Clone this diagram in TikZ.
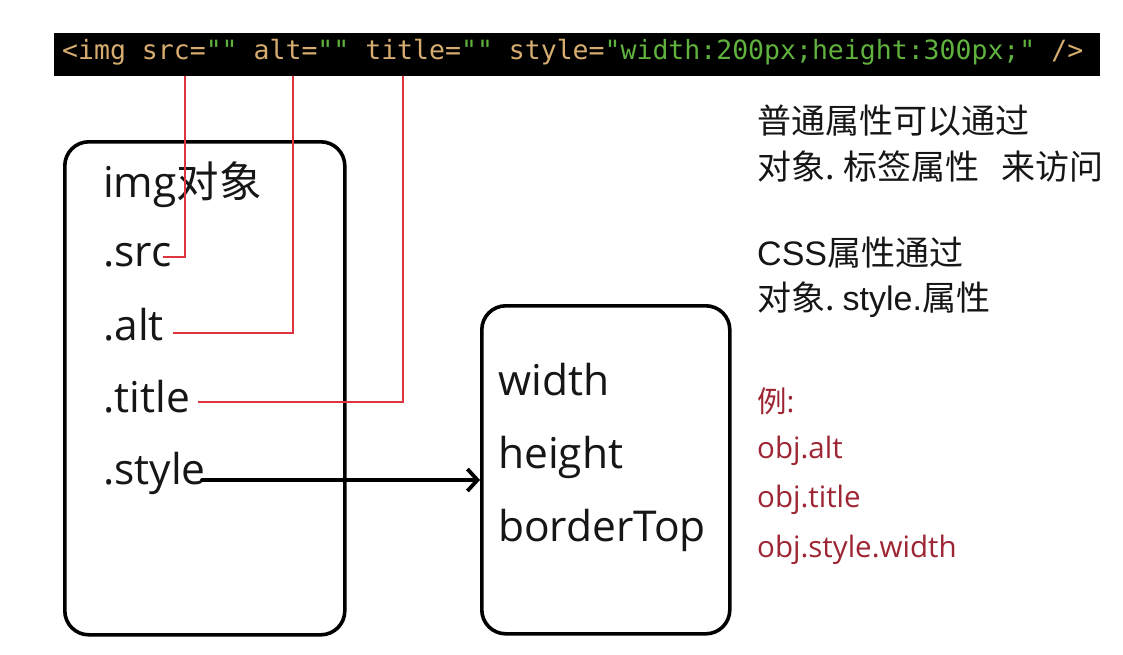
\documentclass[tikz,border=0pt]{standalone}
\usepackage{fontspec}
\setmainfont{Open Sans}
\newfontfamily\cjk{Noto Sans CJK SC}
\newfontfamily\arialf{Liberation Sans}
\newfontfamily\monof{DejaVu Sans Mono}
\usetikzlibrary{arrows.meta,calc}
\definecolor{codetan}{RGB}{214,172,112}
\definecolor{codegreen}{RGB}{96,178,62}
\definecolor{exred}{RGB}{158,38,52}
\definecolor{linkred}{RGB}{222,52,62}
\definecolor{txt}{RGB}{22,22,22}
\begin{document}
\begin{tikzpicture}[x=1pt,y=-1pt,
  box/.style={draw=black, line width=3.6pt, rounded corners=24pt, inner sep=0pt},
  item/.style={anchor=base west, inner sep=0pt, text=txt, font=\fontsize{42.5}{48}\selectfont},
  note/.style={anchor=base west, inner sep=0pt, text=txt, font=\cjk\fontsize{34}{40}\selectfont},
  ex/.style={anchor=base west, inner sep=0pt, text=exred, font=\fontsize{29.5}{34}\selectfont},
  link/.style={draw=linkred, line width=1.3pt},
  conn/.style={draw=black, line width=3.8pt, line cap=round, -{Straight Barb[length=10pt,width=22pt]}},
]
\useasboundingbox (0,0) rectangle (1123,654);
\fill[white] (0,0) rectangle (1123,654);

% code bar
\node[fill=black, minimum width=1046pt, minimum height=43pt, anchor=north west, inner sep=0pt] (code) at (54,33) {};
\node[anchor=base west, inner sep=0pt, font=\monof\fontsize{26.5}{30}\selectfont] (codetext) at (62,59)
  {\textcolor{codetan}{<img\ src=}\textcolor{codegreen}{""}\textcolor{codetan}{\ alt=}\textcolor{codegreen}{""}\textcolor{codetan}{\ title=}\textcolor{codegreen}{""}\textcolor{codetan}{\ style=}\textcolor{codegreen}{"width:200px;height:300px;"}\textcolor{codetan}{\ />}};

% boxes
\node[box, minimum width=280pt, minimum height=493pt, anchor=north west] (obj) at (63,140) {};
\node[box, minimum width=248pt, minimum height=328pt, anchor=north west] (prop) at (480,304) {};

% left box items
\node[item] (head) at (103,197) {img{\cjk 对象}};
\node[item] (src) at (103,266) {.src};
\node[item] (alt) at (103,340) {.alt};
\node[item] (title) at (103,412) {.title};
\node[item] (sty) at (103,484) {.style};

% right box items
\node[item] (width) at (498,395) {width};
\node[item] (height) at (498,468) {height};
\node[item] (border) at (498,541) {borderTop};

% notes
\node[note] (n1) at (757,133) {普通属性可以通过};
\node[note] (n2) at (757,179) {对象.\hspace{9pt}标签属性\hspace{22pt}来访问};
\node[note] (n3) at (757,265) {{\arialf CSS}属性通过};
\node[note] (n4) at (757,310) {对象.\hspace{8pt}{\arialf style.}属性};

% examples
\node[ex] (e0) at (757,412) {{\cjk 例}:};
\node[ex] (e1) at (757,458) {obj.alt};
\node[ex] (e2) at (757,507) {obj.title};
\node[ex] (e3) at (757,557) {obj.style.width};

% attribute anchors on the code bar
\coordinate (asrc) at (185,76);
\coordinate (aalt) at (293,76);
\coordinate (atitle) at (403,76);
\coordinate (esrc) at (163,257);
\coordinate (ealt) at (173,333);
\coordinate (etitle) at (198,402);
\coordinate (esty) at (202,480);

\draw[link] (asrc) |- (esrc);
\draw[link] (aalt) |- (ealt);
\draw[link] (atitle) |- (etitle);
\draw[conn] (esty) -- (esty -| prop.west);
\end{tikzpicture}
\end{document}
